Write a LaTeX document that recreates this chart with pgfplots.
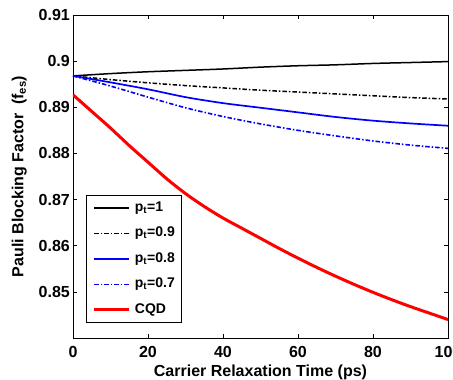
\documentclass[border=0pt]{standalone}
\usepackage{fontspec}
\setmainfont{Liberation Sans}
\usepackage{pgfplots}
\pgfplotsset{compat=1.18}
\begin{document}
\begin{tikzpicture}
\begin{axis}[
  scale only axis,
  width=375pt, height=323pt,
  xmin=0, xmax=100, ymin=0.84, ymax=0.91,
  xtick={0,20,40,60,80,100},
  ytick={0.85,0.86,0.87,0.88,0.89,0.9,0.91},
  yticklabels={0.85,0.86,0.87,0.88,0.89,0.9,0.91},
  tick pos=both,
  major tick length=4pt,
  tick style={black, line width=0.6pt},
  axis line style={black, line width=0.8pt},
  /pgf/number format/assume math mode=true,
  ticklabel style={font=\fontsize{16}{19}\selectfont\bfseries},
  xticklabel style={inner sep=0pt, yshift=-8pt},
  yticklabel style={inner sep=0pt, xshift=-3pt},
  xlabel={Carrier Relaxation Time (ps)},
  ylabel={Pauli Blocking Factor\ \ (f\textsubscript{es})},
  label style={font=\fontsize{16}{19}\selectfont\bfseries},
  xlabel style={at={(axis description cs:0.5,-0.1204)}, anchor=base, inner sep=0pt},
  ylabel style={at={(axis description cs:-0.1227,0.5)}, anchor=south, inner sep=0pt},
  legend cell align=left,
  legend style={at={(axis description cs:0.0347,0.0463)}, anchor=south west,
    font=\fontsize{14}{16}\selectfont\bfseries,
    draw=black, line width=0.8pt,
    inner xsep=6.5pt, inner ysep=5.5pt, row sep=11pt,
    nodes={inner sep=0pt, text height=10.5pt, text depth=4pt},
    /tikz/every odd column/.style={column sep=4pt}},
  legend image code/.code={\draw[#1] (0pt,0pt) -- (35pt,0pt);},
  every axis plot/.append style={smooth},
]
\addplot[black, line width=1.5pt] coordinates {
(0,0.8968) (10,0.8973) (20,0.8977) (30,0.8980) (40,0.8983) (50,0.8987)
(60,0.8990) (70,0.8992) (80,0.8995) (90,0.8997) (100,0.8999)};
\addlegendentry{p\textsubscript{t}=1}
\addplot[black, line width=1.5pt, dash pattern=on 4.5pt off 2pt on 1.5pt off 2pt] coordinates {
(0,0.8968) (10,0.8960) (20,0.8953) (30,0.8947) (40,0.8942) (50,0.8937)
(60,0.8933) (70,0.8929) (80,0.8925) (90,0.8921) (100,0.8918)};
\addlegendentry{p\textsubscript{t}=0.9}
\addplot[blue, line width=1.7pt] coordinates {
(0,0.8968) (10,0.8954) (20,0.8939) (30,0.8922) (40,0.8909)
(50,0.8899) (60,0.8889) (70,0.8879) (80,0.8871) (90,0.8865) (100,0.8860)};
\addlegendentry{p\textsubscript{t}=0.8}
\addplot[blue, line width=1.6pt, dash pattern=on 4.5pt off 2pt on 1.5pt off 2pt] coordinates {
(0,0.8968) (10,0.8946) (20,0.8922) (30,0.8899) (40,0.8880) (50,0.8864)
(60,0.8850) (70,0.8838) (80,0.8827) (90,0.8818) (100,0.8811)};
\addlegendentry{p\textsubscript{t}=0.7}
\addplot[red, line width=3pt] coordinates {
(0,0.8927) (5,0.8891) (10,0.8855) (15,0.8817) (20,0.8781) (25,0.8745)
(30,0.8713) (35,0.8685) (40,0.8660) (45,0.8638) (50,0.8616) (55,0.8594)
(60,0.8573) (65,0.8553) (70,0.8534) (75,0.8516) (80,0.8499) (85,0.8483)
(90,0.8468) (95,0.8454) (100,0.8440)};
\addlegendentry{CQD}
\end{axis}
\pgfresetboundingbox
\path ([xshift=-73pt,yshift=-42pt]current axis.south west) rectangle ([xshift=5pt,yshift=15pt]current axis.north east);
\end{tikzpicture}
\end{document}
